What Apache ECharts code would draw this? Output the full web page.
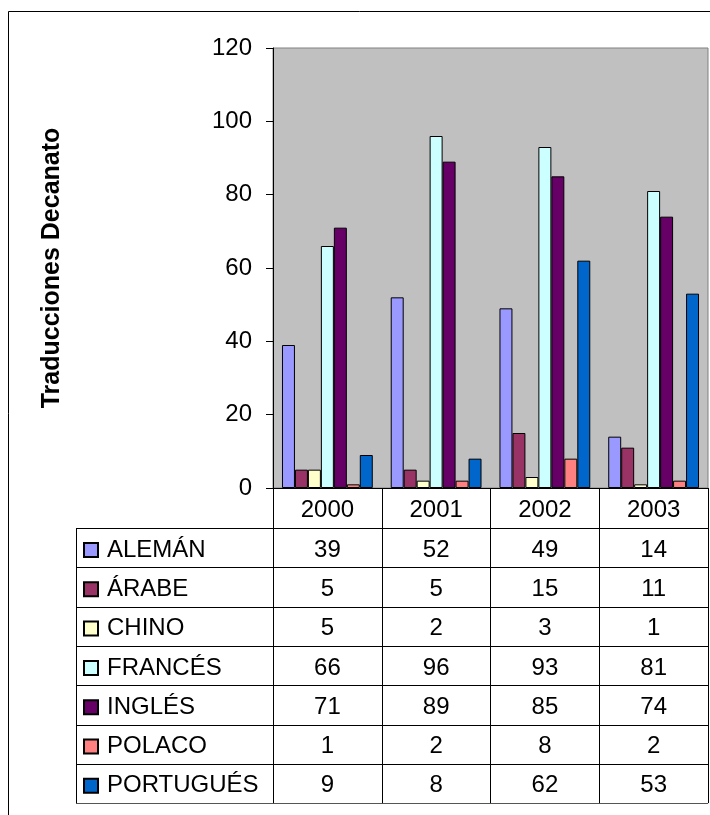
<!DOCTYPE html>
<html>
<head>
<meta charset="utf-8">
<script src="https://cdn.jsdelivr.net/npm/echarts@6/dist/echarts.min.js"></script>
<style>
  html, body { margin: 0; padding: 0; background: #fff; }
  #chart { width: 710px; height: 815px; }
</style>
</head>
<body>
<div id="chart"></div>
<script>
const years = ['2000', '2001', '2002', '2003'];
const languages = ['ALEMÁN', 'ÁRABE', 'CHINO', 'FRANCÉS', 'INGLÉS', 'POLACO', 'PORTUGUÉS'];
const colors = ['#9999FF', '#993366', '#FFFFCC', '#CCFFFF', '#660066', '#FF8080', '#0066CC'];
const aleman = [39, 52, 49, 14];
const arabe = [5, 5, 15, 11];
const chino = [5, 2, 3, 1];
const frances = [66, 96, 93, 81];
const ingles = [71, 89, 85, 74];
const polaco = [1, 2, 8, 2];
const portugues = [9, 8, 62, 53];
const yTicks = [0, 20, 40, 60, 80, 100, 120];

const values = [aleman, arabe, chino, frances, ingles, polaco, portugues];

// layout of plot + data table underneath
const plotLeft = 273;
const plotRight = 708;
const plotTop = 48;
const axisY = 488;
const headerH = 40;
const rowH = 39.3;
const tableLeft = 76;
const tableBottom = axisY + headerH + rowH * languages.length;
const font = '"Liberation Sans", Arial, sans-serif';
const fs = 24;

const chart = echarts.init(document.getElementById('chart'));

const xAxes = [{
  type: 'category',
  data: years,
  gridIndex: 0,
  axisLine: {lineStyle: {color: '#000', width: 1}},
  axisTick: {show: true, length: tableBottom - axisY, lineStyle: {color: '#000'}},
  axisLabel: {color: '#000', fontSize: fs, fontFamily: font, margin: 10}
}];
values.forEach((row, i) => {
  xAxes.push({
    type: 'category',
    data: years,
    gridIndex: 0,
    position: 'bottom',
    offset: headerH + rowH * i,
    axisLine: {show: false},
    axisTick: {show: false},
    axisLabel: {
      color: '#000', fontSize: fs, fontFamily: font, margin: 10,
      formatter: (v, idx) => String(row[idx])
    }
  });
});

const tableLines = [];
for (let i = 0; i <= languages.length; i++) {
  const y = Math.round(axisY + headerH + rowH * i) + 0.5;
  tableLines.push({
    type: 'line',
    shape: {x1: tableLeft, y1: y, x2: plotRight, y2: y},
    style: {stroke: i === languages.length ? '#555' : '#000', lineWidth: 1}
  });
}
tableLines.push({
  type: 'line',
  shape: {x1: tableLeft + 0.5, y1: axisY + headerH, x2: tableLeft + 0.5, y2: tableBottom},
  style: {stroke: '#000', lineWidth: 1}
});
// outer chart frame
tableLines.push({
  type: 'rect',
  shape: {x: 8.5, y: 11.5, width: 760, height: 860},
  style: {fill: null, stroke: '#000', lineWidth: 1}
});

chart.setOption({
  animation: false,
  color: colors,
  grid: {
    left: plotLeft,
    right: 710 - plotRight,
    top: plotTop,
    bottom: 815 - axisY,
    show: true,
    backgroundColor: '#C0C0C0',
    borderColor: '#808080',
    borderWidth: 1
  },
  legend: {
    orient: 'vertical',
    left: 78,
    top: axisY + headerH + 5,
    itemWidth: 14,
    itemHeight: 14,
    itemGap: rowH - fs,
    icon: 'rect',
    textStyle: {color: '#000', fontSize: fs, fontFamily: font, lineHeight: fs, padding: [0, 0, 0, 4]},
    data: languages
  },
  xAxis: xAxes,
  yAxis: {
    type: 'value',
    min: 0,
    max: yTicks[yTicks.length - 1],
    interval: yTicks[1] - yTicks[0],
    name: 'Traducciones Decanato',
    nameLocation: 'middle',
    nameGap: 208,
    nameTextStyle: {color: '#000', fontSize: 25, fontWeight: 'bold', fontFamily: font},
    axisLine: {show: true, lineStyle: {color: '#000', width: 1}},
    axisTick: {show: true, length: 7, lineStyle: {color: '#000'}},
    axisLabel: {color: '#000', fontSize: fs, fontFamily: font, margin: 21},
    splitLine: {show: false}
  },
  series: languages.map((name, i) => ({
    name,
    type: 'bar',
    xAxisIndex: 0,
    data: values[i],
    barGap: '0%',
    barCategoryGap: '16.5%',
    itemStyle: {color: colors[i], borderColor: '#000', borderWidth: 1}
  })),
  graphic: tableLines
});
</script>
</body>
</html>
